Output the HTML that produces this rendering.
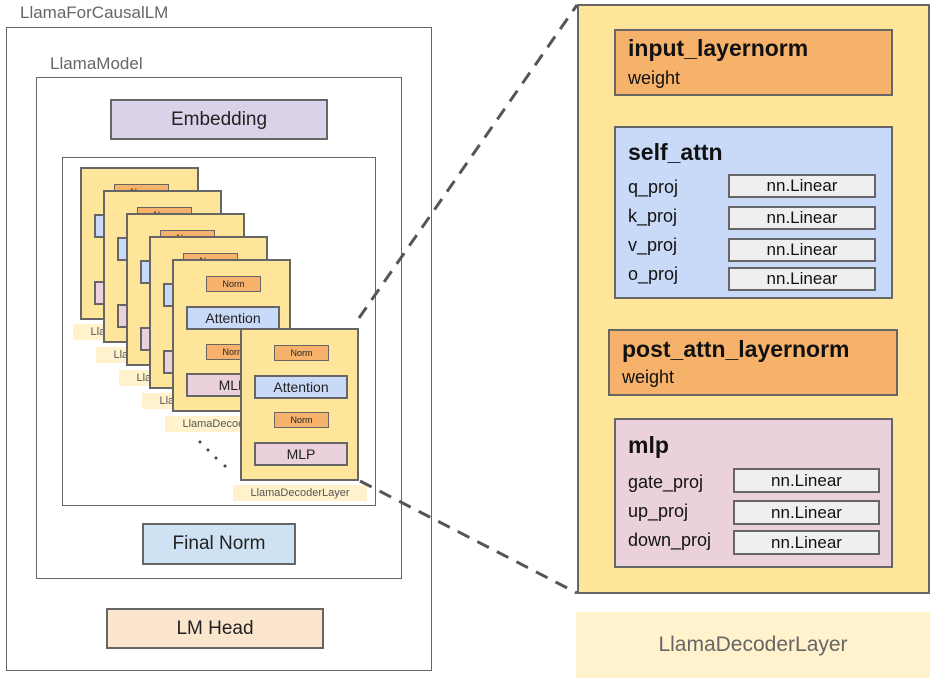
<!DOCTYPE html>
<html><head><meta charset="utf-8"><style>
body{margin:0;width:936px;height:682px;background:#fff;position:relative;overflow:hidden;font-family:"Liberation Sans",Arial,sans-serif;}
.a{position:absolute;box-sizing:border-box;}
.b{border:2px solid #666;}
.c{display:flex;align-items:center;justify-content:center;color:#222;}
.lay{position:absolute;width:119px;height:153px;background:#ffe599;border:2px solid #666;box-sizing:border-box;}
.lay .n{position:absolute;left:32px;width:55px;height:16px;background:#f6b26b;border:1.5px solid #666;box-sizing:border-box;font-size:9px;display:flex;align-items:center;justify-content:center;color:#222;}
.lay .t{position:absolute;left:12px;width:94px;height:24px;border:2px solid #666;box-sizing:border-box;font-size:14px;display:flex;align-items:center;justify-content:center;color:#222;}
.lab{position:absolute;width:134px;height:16px;background:#fff2cc;font-size:11px;color:#555;display:flex;align-items:center;justify-content:center;}
.lin{position:absolute;background:#efefef;border:2px solid #666;box-sizing:border-box;font-size:17px;display:flex;align-items:center;justify-content:center;color:#111;}
.pl{position:absolute;font-size:18px;color:#111;}
</style></head><body>
<div class="a" style="left:20px;top:3px;font-size:17px;color:#666">LlamaForCausalLM</div>
<div class="a" style="left:6px;top:27px;width:426px;height:644px;border:1px solid #666"></div>
<div class="a" style="left:50px;top:54px;font-size:17px;color:#666">LlamaModel</div>
<div class="a" style="left:36px;top:77px;width:366px;height:502px;border:1px solid #666"></div>
<div class="a b c" style="left:110px;top:99px;width:218px;height:41px;background:#d9d2e9;font-size:19px">Embedding</div>
<div class="a" style="left:62px;top:157px;width:314px;height:349px;border:1px solid #666"></div>

<div class="lab" style="left:73px;top:324px">LlamaDecoderLayer</div>
<div class="lay" style="left:80px;top:167px"><div class="n" style="top:15px">Norm</div><div class="t" style="top:45px;background:#c9daf8">Attention</div><div class="n" style="top:83px">Norm</div><div class="t" style="top:112px;background:#ead1dc">MLP</div></div>
<div class="lab" style="left:96px;top:347px">LlamaDecoderLayer</div>
<div class="lay" style="left:103px;top:190px"><div class="n" style="top:15px">Norm</div><div class="t" style="top:45px;background:#c9daf8">Attention</div><div class="n" style="top:83px">Norm</div><div class="t" style="top:112px;background:#ead1dc">MLP</div></div>
<div class="lab" style="left:119px;top:370px">LlamaDecoderLayer</div>
<div class="lay" style="left:126px;top:213px"><div class="n" style="top:15px">Norm</div><div class="t" style="top:45px;background:#c9daf8">Attention</div><div class="n" style="top:83px">Norm</div><div class="t" style="top:112px;background:#ead1dc">MLP</div></div>
<div class="lab" style="left:142px;top:393px">LlamaDecoderLayer</div>
<div class="lay" style="left:149px;top:236px"><div class="n" style="top:15px">Norm</div><div class="t" style="top:45px;background:#c9daf8">Attention</div><div class="n" style="top:83px">Norm</div><div class="t" style="top:112px;background:#ead1dc">MLP</div></div>
<div class="lab" style="left:165px;top:416px">LlamaDecoderLayer</div>
<div class="lay" style="left:172px;top:259px"><div class="n" style="top:15px">Norm</div><div class="t" style="top:45px;background:#c9daf8">Attention</div><div class="n" style="top:83px">Norm</div><div class="t" style="top:112px;background:#ead1dc">MLP</div></div>
<div class="lab" style="left:233px;top:485px">LlamaDecoderLayer</div>
<div class="lay" style="left:240px;top:328px"><div class="n" style="top:15px">Norm</div><div class="t" style="top:45px;background:#c9daf8">Attention</div><div class="n" style="top:82px">Norm</div><div class="t" style="top:112px;background:#ead1dc">MLP</div></div>

<div class="a b c" style="left:142px;top:523px;width:154px;height:42px;background:#cfe2f3;font-size:19px">Final Norm</div>
<div class="a b c" style="left:106px;top:608px;width:218px;height:41px;background:#fce5cd;font-size:19px">LM Head</div>

<svg class="a" style="left:0;top:0" width="936" height="682">
<g fill="#444"><circle cx="200" cy="442" r="1.5"/><circle cx="208" cy="450" r="1.5"/><circle cx="216" cy="458" r="1.5"/><circle cx="225" cy="466" r="1.5"/></g>
<line x1="359" y1="318" x2="577" y2="5" stroke="#555" stroke-width="3" stroke-dasharray="13,9"/>
<line x1="360" y1="481" x2="577" y2="593" stroke="#555" stroke-width="3" stroke-dasharray="13,9"/>
</svg>

<div class="a b" style="left:577px;top:4px;width:353px;height:590px;background:#ffe599"></div>
<div class="a b" style="left:614px;top:29px;width:279px;height:67px;background:#f6b26b"></div>
<div class="a" style="left:628px;top:35px;font-size:23px;font-weight:bold;color:#111">input_layernorm</div>
<div class="pl" style="left:628px;top:68px">weight</div>

<div class="a b" style="left:614px;top:126px;width:279px;height:173px;background:#c9daf8"></div>
<div class="a" style="left:628px;top:139px;font-size:23px;font-weight:bold;color:#111">self_attn</div>
<div class="pl" style="left:628px;top:177px">q_proj</div>
<div class="pl" style="left:628px;top:206px">k_proj</div>
<div class="pl" style="left:628px;top:235px">v_proj</div>
<div class="pl" style="left:628px;top:264px">o_proj</div>
<div class="lin" style="left:728px;top:174px;width:148px;height:24px">nn.Linear</div>
<div class="lin" style="left:728px;top:206px;width:148px;height:24px">nn.Linear</div>
<div class="lin" style="left:728px;top:238px;width:148px;height:24px">nn.Linear</div>
<div class="lin" style="left:728px;top:267px;width:148px;height:24px">nn.Linear</div>

<div class="a b" style="left:608px;top:329px;width:290px;height:67px;background:#f6b26b"></div>
<div class="a" style="left:622px;top:336px;font-size:23px;font-weight:bold;color:#111">post_attn_layernorm</div>
<div class="pl" style="left:622px;top:367px">weight</div>

<div class="a b" style="left:614px;top:418px;width:279px;height:150px;background:#ead1dc"></div>
<div class="a" style="left:628px;top:432px;font-size:23px;font-weight:bold;color:#111">mlp</div>
<div class="pl" style="left:628px;top:472px">gate_proj</div>
<div class="pl" style="left:628px;top:501px">up_proj</div>
<div class="pl" style="left:628px;top:530px">down_proj</div>
<div class="lin" style="left:733px;top:468px;width:147px;height:25px">nn.Linear</div>
<div class="lin" style="left:733px;top:500px;width:147px;height:25px">nn.Linear</div>
<div class="lin" style="left:733px;top:530px;width:147px;height:25px">nn.Linear</div>

<div class="a c" style="left:576px;top:612px;width:354px;height:66px;background:#fff2cc;font-size:21px;color:#666">LlamaDecoderLayer</div>
</body></html>
